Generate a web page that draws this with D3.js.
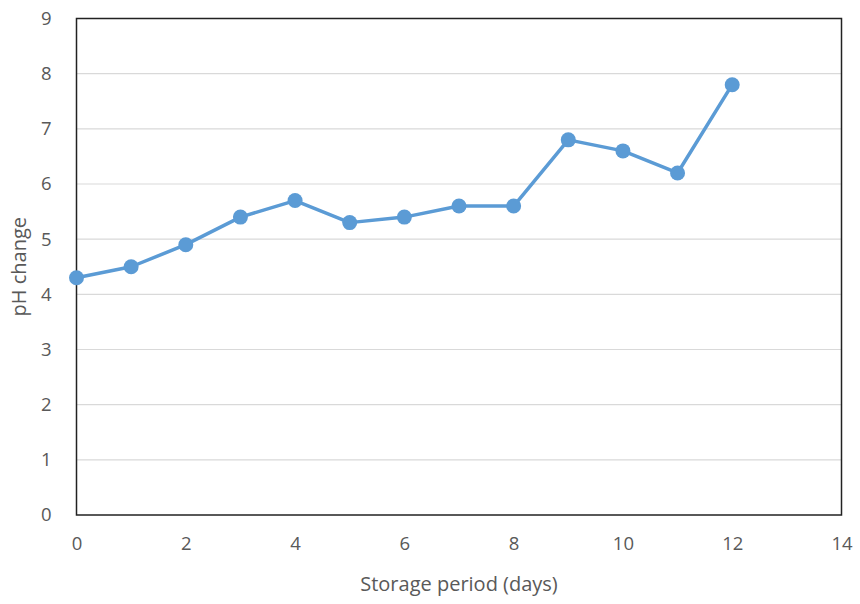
<!DOCTYPE html>
<html><head><meta charset="utf-8">
<script src="https://cdn.jsdelivr.net/npm/d3@7"></script>
<style>body{margin:0;background:#fff;} svg{display:block;}</style>
</head><body>
<script>
const days = [0,1,2,3,4,5,6,7,8,9,10,11,12];
const ph = [4.3,4.5,4.9,5.4,5.7,5.3,5.4,5.6,5.6,6.8,6.6,6.2,7.8];
const xTicks = [0,2,4,6,8,10,12,14];
const yTicks = [0,1,2,3,4,5,6,7,8,9];
const xTitle = "Storage period (days)";
const yTitle = "pH change";

const W=860,H=604;
const m={left:76.5,right:860-841.5,top:18.5,bottom:604-515};
const svg=d3.select("body").append("svg").attr("width",W).attr("height",H);
const x=d3.scaleLinear().domain([0,14]).range([m.left,W-m.right]);
const y=d3.scaleLinear().domain([0,9]).range([H-m.bottom,m.top]);
const font="'Open Sans', sans-serif";
const grey="#595959";

svg.append("g").selectAll("line").data(yTicks.slice(1,-1)).join("line")
 .attr("x1",x(0)).attr("x2",x(14)).attr("y1",d=>y(d)).attr("y2",d=>y(d))
 .attr("stroke","#d9d9d9").attr("stroke-width",1.2);

svg.append("rect").attr("x",x(0)).attr("y",y(9)).attr("width",x(14)-x(0)).attr("height",y(0)-y(9))
 .attr("fill","none").attr("stroke","#222").attr("stroke-width",1.5);

const yAxis=svg.append("g").attr("transform",`translate(${x(0)},0)`)
 .call(d3.axisLeft(y).tickValues(yTicks).tickSize(0).tickPadding(25).tickFormat(d3.format("d")));
yAxis.select(".domain").remove();
yAxis.selectAll("text").attr("font-family",font).attr("font-size",18.5).attr("fill",grey);

const xAxis=svg.append("g").attr("transform",`translate(0,${y(0)})`)
 .call(d3.axisBottom(x).tickValues(xTicks).tickSize(0).tickPadding(22).tickFormat(d3.format("d")));
xAxis.select(".domain").remove();
xAxis.selectAll("text").attr("font-family",font).attr("font-size",18.5).attr("fill",grey);

const line=d3.line().x((d,i)=>x(days[i])).y(d=>y(d));
svg.append("path").datum(ph).attr("d",line).attr("fill","none")
 .attr("stroke","#5b9bd5").attr("stroke-width",3.5).attr("stroke-linejoin","round");
svg.append("g").selectAll("circle").data(ph).join("circle")
 .attr("cx",(d,i)=>x(days[i])).attr("cy",d=>y(d)).attr("r",7.5).attr("fill","#5b9bd5");

svg.append("text").attr("x",(x(0)+x(14))/2).attr("y",591).attr("text-anchor","middle")
 .attr("font-family",font).attr("font-size",20).attr("fill",grey).text(xTitle);
svg.append("text").attr("transform",`translate(26,${(y(0)+y(9))/2}) rotate(-90)`).attr("text-anchor","middle")
 .attr("font-family",font).attr("font-size",20).attr("fill",grey).text(yTitle);
</script>
</body></html>
